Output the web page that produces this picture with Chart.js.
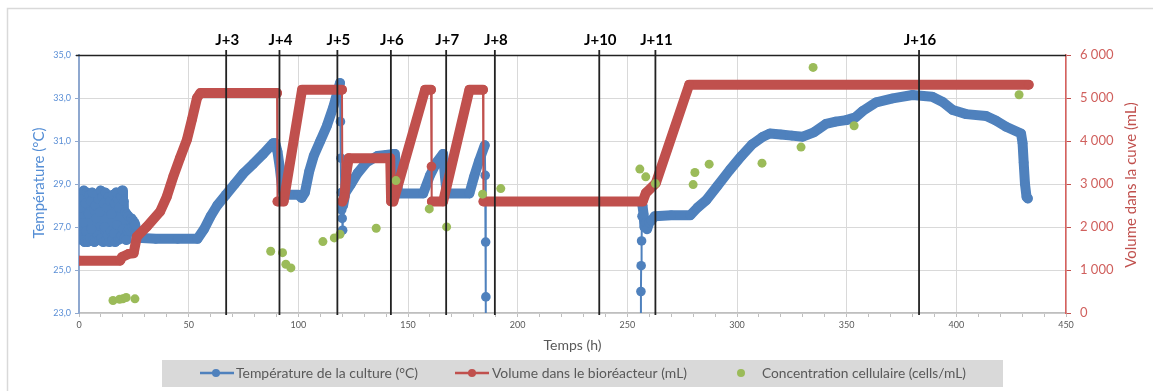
<!DOCTYPE html>
<html lang="fr">
<head>
<meta charset="utf-8">
<script src="https://cdn.jsdelivr.net/npm/chart.js@4.4.1/dist/chart.umd.min.js"></script>
<style>
html, body { margin: 0; padding: 0; background: #fff; }
#graphique { display: block; }
</style>
</head>
<body>
<canvas id="graphique" width="1153" height="391"></canvas>
<script>
// Température de la culture (°C) - heures / valeurs
const tempHeures = [0.1, 0.45, 0.8, 1.15, 1.5, 1.85, 2.2, 2.55, 2.9, 3.25, 3.6, 3.95, 4.3, 4.65, 5.0, 5.35, 5.7, 6.05, 6.4, 6.75,
    7.1, 7.45, 7.8, 8.15, 8.5, 8.85, 9.2, 9.55, 9.9, 10.25, 10.6, 10.95, 11.3, 11.65, 12.0, 12.35, 12.7, 13.05, 13.4, 13.75,
    14.1, 14.45, 14.8, 15.15, 15.5, 15.85, 16.2, 16.55, 16.9, 17.25, 17.6, 17.95, 18.3, 18.65, 19.0, 19.35, 19.7, 20.05, 20.4, 20.75,
    21.1, 21.45, 21.8, 22.15, 22.5, 22.85, 23.2, 23.55, 23.9, 24.25, 24.6, 24.95, 25.3, 25.65,
    26.5, 35, 45, 54, 57, 60, 63, 67, 71, 75, 79.6, 84, 88.5, 89.5, 90.5, 91.5, 92.5, 93.3, 100, 101.5, 103, 105, 107, 110, 113, 116, 119.0,
    119.2, 119.4, 119.6, 119.8, 120.0, 120.2, 120.4,
    121.5, 124, 127, 131, 136, 140, 143.5, 144, 144.8, 145.5, 156.9, 160, 163, 166, 166.8, 167.6, 178, 180, 182.5, 185,
    185.2, 185.4, 185.5, 185.6, 256.0, 256.2, 256.3, 256.5, 256.7, 256.9,
    257.4, 257.8, 258.3, 259, 260, 261, 262.5, 270, 278.7, 282, 286, 291, 296.7, 302, 307, 311.8, 315, 320, 325, 330, 335,
    340.6, 345, 349.8, 354, 357.4, 363.5, 371, 380, 389, 394, 398.4, 404.5, 413.6, 418, 422.7, 429.5, 430.2, 430.7, 431.3, 432.0, 432.6];
const tempValeurs = [28.3, 26.6, 27.9, 26.4, 28.4, 27.2, 28.7, 26.3, 28.1, 26.8,
    28.6, 26.3, 27.6, 28.5, 26.5, 28.2, 26.9, 28.6, 26.4, 27.8,
    26.3, 28.0, 27.4, 28.5, 26.6, 28.3, 26.4, 27.7, 28.7, 26.5,
    28.4, 26.3, 28.1, 27.0, 28.6, 26.4, 27.9, 26.6, 28.4, 26.3,
    28.2, 26.8, 27.6, 26.4, 28.5, 26.7, 28.1, 26.3, 28.6, 27.1,
    28.3, 26.4, 27.9, 26.5, 28.4, 26.6, 28.7, 26.9, 28.2, 26.5,
    27.7, 26.4, 27.6, 26.8, 27.5, 26.9, 27.3, 26.8, 27.4, 27.0,
    27.3, 27.1, 27.2, 27.1,
    26.5, 26.45, 26.45, 26.45, 26.9, 27.5, 28.0, 28.5, 29.0, 29.5, 29.95, 30.4, 30.9, 30.9, 30.5, 29.8, 28.9, 28.5, 28.5, 28.35, 28.6, 29.6, 30.3, 31.0, 31.7, 32.6, 33.7,
    31.9, 30.2, 28.6, 27.8, 27.4, 26.85, 28.0,
    28.6, 29.0, 29.5, 30.0, 30.3, 30.35, 30.4, 30.4, 29.4, 28.56, 28.56, 29.4, 30.0, 30.4, 29.4, 28.56, 28.56, 29.3, 30.1, 30.8,
    29.4, 26.3, 23.75, 15, 15, 24.0, 25.2, 26.35, 27.5, 28.0,
    27.6, 27.0, 27.2, 26.9, 27.2, 27.3, 27.5, 27.55, 27.55, 27.9, 28.25, 28.9, 29.65, 30.3, 30.85, 31.2, 31.35, 31.3, 31.25, 31.2, 31.4,
    31.8, 31.9, 31.97, 32.1, 32.4, 32.8, 32.98, 33.14, 33.06, 32.8, 32.44, 32.25, 32.16, 31.95, 31.66, 31.35, 30.9, 30.0, 29.0, 28.4, 28.33];

// Volume dans le bioréacteur (mL)
const volHeures = [0, 18.8, 19.6, 22.6, 24.9, 26.4, 31, 37, 40, 43, 46, 49.2, 51.5, 53.8, 55.3, 90.3,
    90.5, 93.3, 101.7, 119.9, 120.1, 121.0, 122.0, 123.0, 141.9, 142.3, 143.3, 157.8, 160.5, 160.7, 160.9,
    166, 178, 184.2, 184.4, 257, 258.4, 263, 278.2, 433];
const volValeurs = [1218, 1218, 1300, 1374, 1390, 1777, 2010, 2360, 2700, 3174, 3600, 4028, 4500, 5000, 5114, 5114,
    2592, 2592, 5192, 5192, 2592, 2700, 3300, 3601, 3601, 2592, 2592, 5192, 5192, 3407, 2592,
    2592, 5192, 5192, 2592, 2592, 2787, 3018, 5308, 5308];

// Concentration cellulaire (cells/mL)
const concHeures = [15.5, 18.5, 20, 21.5, 25.5, 87.4, 92.8, 94.3, 96.6, 111.2, 116.4, 119, 135.5, 144.5, 159.7, 167.6,
    184, 192.3, 255.7, 258.4, 262.8, 280, 280.8, 287.3, 311.4, 329.2, 334.7, 353.4, 428.6];
const concValeurs = [290000, 320000, 330000, 360000, 330000, 1437000, 1404000, 1134000, 1048000, 1660000, 1746000, 1832000,
    1972000, 3080000, 2421000, 2002000, 2763000, 2894000, 3346000, 3166000, 3010000, 2987000, 3267000, 3462000,
    3485000, 3858000, 5712000, 4354000, 5076000];

// Repères des jours
const joursHeures = [67.1, 91.4, 117.8, 142.2, 167.4, 189.6, 237.2, 262.8, 383];
const joursLabels = ['J+3', 'J+4', 'J+5', 'J+6', 'J+7', 'J+8', 'J+10', 'J+11', 'J+16'];

const BLEU = '#4f81bd';
const ROUGE = '#c0504d';
const VERT = '#9bbb59';

function points(xs, ys) {
    return xs.map((x, i) => ({ x: x, y: ys[i] }));
}

// segments quasi verticaux : trait fin, sinon trait épais (marqueurs serrés)
function largeurSegment(ctx) {
    return Math.abs(ctx.p1.parsed.x - ctx.p0.parsed.x) < 0.25 ? 2 : 10;
}

function texteEtire(ctx, txt, x, y, largeur) {
    const w = ctx.measureText(txt).width;
    const k = Math.min(1.15, largeur / w);
    ctx.save();
    ctx.translate(x, y);
    ctx.scale(k, 1);
    ctx.fillText(txt, 0, 0);
    ctx.restore();
}

const decor = {
    id: 'decor',
    beforeDraw(chart) {
        const c = chart.ctx;
        c.save();
        c.fillStyle = '#fff';
        c.fillRect(0, 0, chart.width, chart.height);
        c.strokeStyle = '#d9d9d9';
        c.lineWidth = 1.5;
        c.strokeRect(7.5, 8.5, chart.width + 10, chart.height + 10);
        c.restore();
    },
    afterDatasetsDraw(chart) {
        const c = chart.ctx;
        const a = chart.chartArea;
        const x = chart.scales.x;
        c.save();
        c.strokeStyle = '#222';
        c.lineWidth = 1.3;
        c.beginPath();
        c.moveTo(a.left - 3, a.top + 0.5);
        c.lineTo(a.right, a.top + 0.5);
        c.stroke();
        c.lineWidth = 1.8;
        c.fillStyle = '#000';
        c.font = 'bold 15px Lato';
        c.textAlign = 'center';
        c.textBaseline = 'middle';
        joursHeures.forEach((h, i) => {
            const px = x.getPixelForValue(h);
            c.beginPath();
            c.moveTo(px, a.top - 5);
            c.lineTo(px, a.bottom + 2);
            c.stroke();
            c.fillText(joursLabels[i], px + 1, 40);
        });
        c.restore();
    },
    afterDraw(chart) {
        const c = chart.ctx;
        const a = chart.chartArea;
        c.save();
        // titres des axes
        c.textAlign = 'center';
        c.textBaseline = 'middle';
        c.font = '15px Lato';
        c.fillStyle = '#558ed5';
        c.save();
        c.translate(39, 183);
        c.rotate(-Math.PI / 2);
        c.fillText('Température (°C)', 0, 0);
        c.restore();
        c.fillStyle = ROUGE;
        c.save();
        c.translate(1131, 185);
        c.rotate(-Math.PI / 2);
        c.fillText('Volume dans la cuve (mL)', 0, 0);
        c.restore();
        c.fillStyle = '#595959';
        c.font = '14px Lato';
        c.fillText('Temps (h)', (a.left + a.right) / 2, 345);

        // légende
        c.fillStyle = '#d9d9d9';
        c.fillRect(162, 360, 841, 27);
        const yl = 373;
        c.lineWidth = 2.5;
        c.strokeStyle = BLEU;
        c.beginPath(); c.moveTo(200, yl); c.lineTo(234, yl); c.stroke();
        c.fillStyle = BLEU;
        c.beginPath(); c.arc(216, yl, 4, 0, Math.PI * 2); c.fill();
        c.strokeStyle = ROUGE;
        c.beginPath(); c.moveTo(455, yl); c.lineTo(489, yl); c.stroke();
        c.fillStyle = ROUGE;
        c.beginPath(); c.arc(472, yl, 4, 0, Math.PI * 2); c.fill();
        c.fillStyle = VERT;
        c.beginPath(); c.arc(741, yl, 4, 0, Math.PI * 2); c.fill();
        c.fillStyle = '#595959';
        c.font = '14px Lato';
        c.textAlign = 'left';
        texteEtire(c, 'Température de la culture (°C)', 236, yl, 182);
        texteEtire(c, 'Volume dans le bioréacteur (mL)', 492, yl, 195);
        texteEtire(c, 'Concentration cellulaire (cells/mL)', 762, yl, 204);
        c.restore();
    }
};

const ctx = document.getElementById('graphique').getContext('2d');
const chart = new Chart(ctx, {
    type: 'line',
    data: {
        datasets: [
            {
                label: 'Concentration cellulaire (cells/mL)',
                type: 'scatter',
                data: points(concHeures, concValeurs),
                yAxisID: 'yC',
                backgroundColor: VERT,
                borderColor: VERT,
                pointRadius: 4.5,
                pointBorderWidth: 0,
                showLine: false,
                order: 1
            },
            {
                label: 'Volume dans le bioréacteur (mL)',
                data: points(volHeures, volValeurs),
                yAxisID: 'yV',
                borderColor: ROUGE,
                backgroundColor: ROUGE,
                borderWidth: 10,
                borderCapStyle: 'round',
                borderJoinStyle: 'round',
                pointRadius: 4.8,
                pointBorderWidth: 0,
                segment: { borderWidth: largeurSegment },
                order: 2
            },
            {
                label: 'Température de la culture (°C)',
                data: points(tempHeures, tempValeurs),
                yAxisID: 'yT',
                borderColor: BLEU,
                backgroundColor: BLEU,
                borderWidth: 10,
                borderCapStyle: 'round',
                borderJoinStyle: 'round',
                pointRadius: 4.8,
                pointBorderWidth: 0,
                segment: { borderWidth: largeurSegment },
                order: 3
            }
        ]
    },
    options: {
        responsive: false,
        animation: false,
        devicePixelRatio: 1,
        layout: { padding: { top: 55, left: 0, right: 0, bottom: 0 } },
        plugins: {
            legend: { display: false },
            title: { display: false },
            tooltip: { enabled: false }
        },
        scales: {
            x: {
                type: 'linear',
                min: 0,
                max: 450,
                afterFit: s => { s.height = 78; },
                ticks: {
                    stepSize: 10,
                    autoSkip: false,
                    maxRotation: 0,
                    padding: 3,
                    color: '#595959',
                    font: { family: 'Lato', size: 9 },
                    callback: v => (v % 50 === 0 ? String(v) : '')
                },
                grid: {
                    color: c => (c.tick && c.tick.value % 50 === 0 ? '#d9d9d9' : 'rgba(0,0,0,0)'),
                    tickColor: '#bfbfbf',
                    tickLength: 4
                },
                border: { color: '#bfbfbf', width: 1.5 }
            },
            yT: {
                position: 'left',
                min: 23,
                max: 35,
                afterFit: s => { s.width = 79; },
                ticks: {
                    stepSize: 2,
                    padding: 4,
                    color: '#5b8fd6',
                    font: { family: 'Lato', size: 9 },
                    callback: v => v.toFixed(1).replace('.', ',')
                },
                grid: { color: '#d9d9d9', tickColor: '#8fa8cf', tickLength: 4 },
                border: { color: '#8fa8cf', width: 2 }
            },
            yV: {
                position: 'right',
                min: 0,
                max: 6000,
                afterFit: s => { s.width = 87; },
                ticks: {
                    stepSize: 1000,
                    padding: 9,
                    color: '#d0605d',
                    font: { family: 'Lato', size: 13 },
                    callback: v => (v === 0 ? '0' : Math.floor(v / 1000) + ' 000')
                },
                grid: { drawOnChartArea: false, tickColor: ROUGE, tickLength: 5 },
                border: { color: '#d9605d', width: 1.5 }
            },
            yC: {
                display: false,
                min: 0,
                max: 6000000
            }
        }
    },
    plugins: [decor]
});
</script>
</body>
</html>
